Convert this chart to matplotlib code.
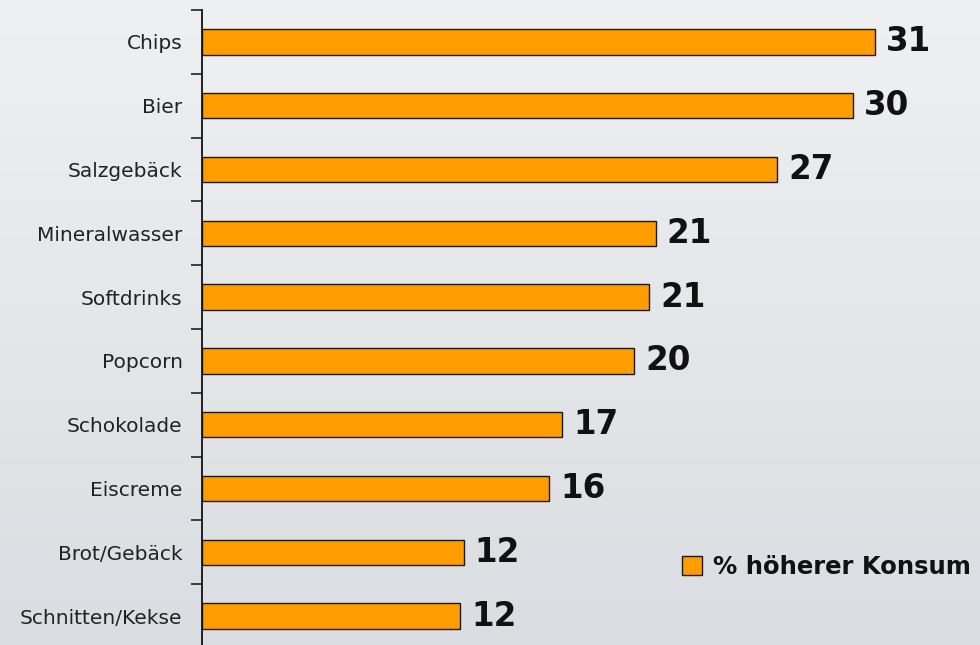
import numpy as np
import matplotlib
matplotlib.use("Agg")
import matplotlib.pyplot as plt
from matplotlib.colors import LinearSegmentedColormap

categories = ["Chips", "Bier", "Salzgebäck", "Mineralwasser", "Softdrinks",
              "Popcorn", "Schokolade", "Eiscreme", "Brot/Gebäck", "Schnitten/Kekse"]
values = [31.0, 30.0, 26.5, 20.9, 20.6, 19.9, 16.6, 16.0, 12.05, 11.9]
value_labels = ["31", "30", "27", "21", "21", "20", "17", "16", "12", "12"]
legend_label = "% höherer Konsum"

W, H = 980, 645
fig = plt.figure(figsize=(W / 100, H / 100), dpi=100)

# background gradient
bg = fig.add_axes([0, 0, 1, 1], zorder=-10)
cmap = LinearSegmentedColormap.from_list("bg", ["#eff0f2", "#dadde1"])
grad = np.linspace(0, 1, 256).reshape(-1, 1)
bg.imshow(grad, aspect="auto", cmap=cmap, extent=[0, 1, 0, 1], origin="upper")
bg.set_axis_off()

left = 202 / W
top = 1 - 10 / H
bottom = -3 / H
ax = fig.add_axes([left, bottom, 1 - left, top - bottom])
ax.patch.set_alpha(0)

y = np.arange(len(categories))
bars = ax.barh(y, values, height=0.4, color="#ff9c00", edgecolor="#1a1a1a",
               linewidth=1.0, label=legend_label)
ax.set_ylim(len(categories) - 0.5, -0.5)
ax.set_xlim(0, (W - 202) / 21.71)

for yi, v, lab in zip(y, values, value_labels):
    ax.text(v + 11 / 21.71, yi, lab, va="center", ha="left",
            fontsize=23.5, fontweight="bold", color="#111111")

ax.set_yticks(y)
ax.set_yticklabels(categories, fontsize=14.5, color="#222222")
ax.tick_params(axis="y", which="major", length=0, pad=14)
ax.set_yticks(np.arange(-0.5, len(categories), 1.0), minor=True)
ax.tick_params(axis="y", which="minor", length=8, width=1.1, color="#111111")
ax.set_xticks([])
for s in ["top", "right", "bottom"]:
    ax.spines[s].set_visible(False)
ax.spines["left"].set_linewidth(1.3)
ax.spines["left"].set_color("#111111")

leg = ax.legend(loc="center left", bbox_to_anchor=(682 / W, 1 - 567 / H),
                bbox_transform=fig.transFigure, frameon=False,
                prop={"size": 17.5, "weight": "bold"}, handlelength=0.82,
                handleheight=0.82, handletextpad=0.45, borderpad=0, borderaxespad=0)
for t in leg.get_texts():
    t.set_color("#111111")

fig.savefig("out.png", dpi=100)
